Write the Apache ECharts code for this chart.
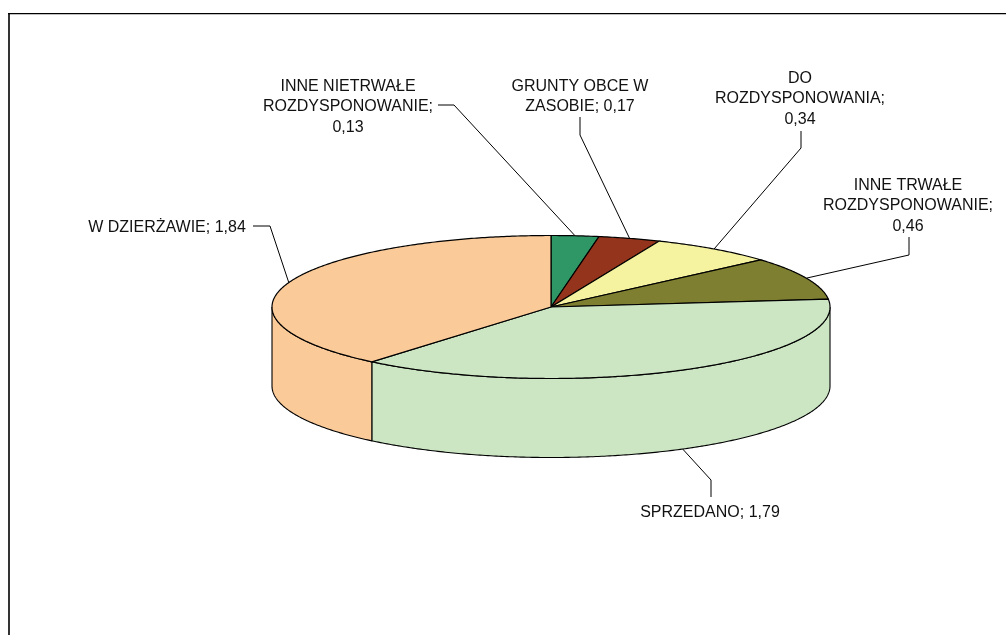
<!DOCTYPE html>
<html><head><meta charset="utf-8">
<style>html,body{margin:0;padding:0;background:#fff;overflow:hidden}#c{width:1006px;height:635px}</style>
<script src="https://cdn.jsdelivr.net/npm/echarts@6/dist/echarts.min.js"></script>
</head><body><div id="c"></div>
<script>
var categories = ['INNE NIETRWAŁE ROZDYSPONOWANIE','GRUNTY OBCE W ZASOBIE','DO ROZDYSPONOWANIA','INNE TRWAŁE ROZDYSPONOWANIE','SPRZEDANO','W DZIERŻAWIE'];
var values = [0.13,0.17,0.34,0.46,1.79,1.84];
var labelLines = [
  ['INNE NIETRWAŁE','ROZDYSPONOWANIE;','0,13'],
  ['GRUNTY OBCE W','ZASOBIE; 0,17'],
  ['DO','ROZDYSPONOWANIA;','0,34'],
  ['INNE TRWAŁE','ROZDYSPONOWANIE;','0,46'],
  ['SPRZEDANO; 1,79'],
  ['W DZIERŻAWIE; 1,84']
];
var colors = ['#2F9666','#94341C','#F5F2A0','#7F7F31','#CCE6C4','#FBCA99'];

// layout, separate from the data
var cx = 551, cy = 307, rx = 279, ry = 71.5, depth = 79;
var labelPos = [
  {x:348,y:76,elbow:[[438,105],[454,105]]},
  {x:580,y:76,elbow:[[580,117],[580,135]]},
  {x:800,y:68,elbow:[[801,131],[801,148]]},
  {x:908,y:175,elbow:[[909,237],[909,255]]},
  {x:710,y:502,elbow:[[711,497],[711,480]]},
  {x:167,y:217,elbow:[[253,226],[270,226]]}
];
var total = values.reduce(function(a,b){return a+b;},0);
function startOf(i){var s=0;for(var k=0;k<i;k++)s+=values[k];return s/total*2*Math.PI;}
function pt(a,dy){return [cx+rx*Math.sin(a),cy-ry*Math.cos(a)+(dy||0)];}
function arc(a0,a1,dy){var n=Math.max(2,Math.ceil((a1-a0)/0.01)),o=[];for(var i=0;i<=n;i++)o.push(pt(a0+(a1-a0)*i/n,dy));return o;}
var seriesData = values.map(function(v,i){return [i,v];});
var line = {stroke:'#000',lineWidth:1,fill:null};

var option = {
  animation:false,
  backgroundColor:'#fff',
  graphic:[
    {type:'line',silent:true,z:1,shape:{x1:9,y1:13,x2:9,y2:635},style:{stroke:'#000',lineWidth:1.6}},
    {type:'line',silent:true,z:1,shape:{x1:8,y1:13.65,x2:1006,y2:13.65},style:{stroke:'#000',lineWidth:1.3}}
  ],
  series:[
    {type:'custom',coordinateSystem:'none',silent:true,z:2,data:seriesData,renderItem:function(p,api){
      var i=api.value(0),a0=startOf(i),a1=a0+api.value(1)/total*2*Math.PI;
      var lo=Math.max(a0,Math.PI/2),hi=Math.min(a1,1.5*Math.PI);
      if(hi<=lo)return {type:'group',children:[]};
      var pts=arc(lo,hi,0).concat(arc(lo,hi,depth).reverse());
      return {type:'polygon',shape:{points:pts},style:{fill:colors[i],stroke:'#000',lineWidth:1.1}};
    }},
    {type:'custom',coordinateSystem:'none',silent:true,z:3,data:seriesData,renderItem:function(p,api){
      var i=api.value(0),a0=startOf(i),a1=a0+api.value(1)/total*2*Math.PI;
      var pts=[[cx,cy]].concat(arc(a0,a1,0));
      return {type:'polygon',shape:{points:pts},style:{fill:colors[i],stroke:'#000',lineWidth:1.2}};
    }},
    {type:'custom',coordinateSystem:'none',silent:true,z:4,data:seriesData,renderItem:function(p,api){
      var i=api.value(0),a0=startOf(i),a1=a0+api.value(1)/total*2*Math.PI,mid=(a0+a1)/2;
      var front=mid>Math.PI/2&&mid<1.5*Math.PI;
      var lp=labelPos[i];
      return {type:'group',children:[
        {type:'polyline',shape:{points:lp.elbow.concat([pt(mid,front?depth:0)])},style:line},
        {type:'text',style:{x:lp.x,y:lp.y,text:labelLines[i].join('\n'),align:'center',verticalAlign:'top',fill:'#111',
          font:'16px "Liberation Sans", Arial, sans-serif',lineHeight:20.5}}
      ]};
    }}
  ]
};
echarts.init(document.getElementById('c'),null,{renderer:'canvas'}).setOption(option);
</script></body></html>
